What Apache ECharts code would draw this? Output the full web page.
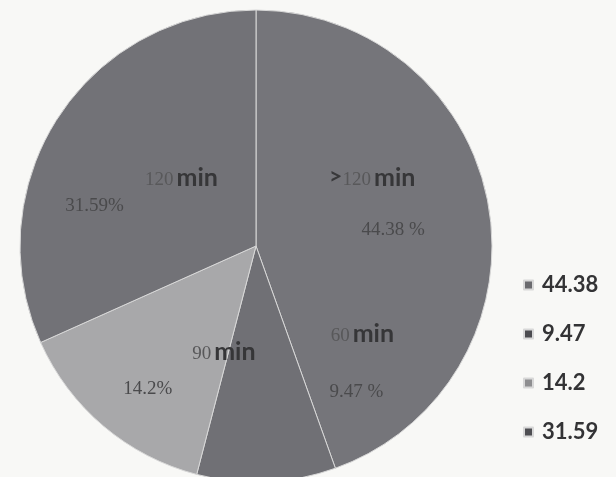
<!DOCTYPE html>
<html>
<head>
<meta charset="utf-8">
<script src="https://cdn.jsdelivr.net/npm/echarts@6/dist/echarts.min.js"></script>
<style>
  html, body { margin: 0; padding: 0; background: #f8f8f6; }
  #chart { width: 616px; height: 477px; }
</style>
</head>
<body>
<div id="chart"></div>
<script>
// Share of cases by duration (slices run clockwise from 12 o'clock)
const durations   = ['>120', '60', '90', '120'];
const shares      = [44.38, 9.47, 14.2, 31.59];
const shareTexts  = ['44.38 %', '9.47 %', '14.2%', '31.59%'];
const legendNames = ['44.38', '9.47', '14.2', '31.59'];

// Styling
const sliceColors  = ['#75757a', '#707075', '#a8a8aa', '#727277'];
const legendColors = ['#6a6a6e', '#4c4c50', '#8e8e90', '#4e4e52'];
// Nudges applied to the library's inside-label anchor for each slice
const durationNudge = [[-3, -48], [101, -33], [46, 13], [27, -3]];
const shareNudge    = [[18, 5], [95, 25], [-30, 51], [-60, 26]];

const pieCenter = [256, 246];
const pieRadius = 236;

const sliceData = shares.map((v, i) => ({
  name: legendNames[i],
  value: v,
  itemStyle: { color: sliceColors[i] }
}));

const chart = echarts.init(document.getElementById('chart'));
chart.setOption({
  backgroundColor: '#f8f8f6',
  animation: false,
  legend: {
    orient: 'vertical',
    left: 518,
    top: 269,
    itemWidth: 9,
    itemHeight: 9,
    itemGap: 27,
    icon: 'rect',
    data: legendNames.map((n, i) => ({ name: n, itemStyle: { color: legendColors[i] } })),
    textStyle: {
      fontFamily: 'Lato',
      fontWeight: 'bold',
      fontSize: 22,
      lineHeight: 22,
      color: '#333335',
      padding: [0, 0, 0, 4]
    }
  },
  series: [
    {
      type: 'pie',
      center: pieCenter,
      radius: pieRadius,
      startAngle: 90,
      clockwise: true,
      silent: true,
      itemStyle: { borderColor: '#d8d8d8', borderWidth: 1 },
      label: {
        show: true,
        position: 'inside',
        formatter: (p) => {
          const d = durations[p.dataIndex];
          if (d.charAt(0) === '>') return '{g|>}{n|' + d.slice(1) + '}{m|min}';
          return '{n|' + d + '}{m|min}';
        },
        rich: {
          g: { fontFamily: 'Lato', fontWeight: 'bold', fontSize: 23, color: '#38383a', lineHeight: 26, verticalAlign: 'bottom', padding: [0, 0, 2, 0] },
          n: { fontFamily: 'Liberation Serif', fontSize: 19, color: '#58585a', lineHeight: 26, verticalAlign: 'bottom', padding: [0, 0, 1, 0] },
          m: { fontFamily: 'Lato', fontWeight: 'bold', fontSize: 25, color: '#363638', lineHeight: 26, verticalAlign: 'bottom', padding: [0, 0, 0, 3] }
        }
      },
      labelLayout: (p) => ({ dx: durationNudge[p.dataIndex][0], dy: durationNudge[p.dataIndex][1] }),
      labelLine: { show: false },
      data: sliceData
    },
    {
      type: 'pie',
      center: pieCenter,
      radius: pieRadius,
      startAngle: 90,
      clockwise: true,
      silent: true,
      itemStyle: { color: 'rgba(0,0,0,0)', borderWidth: 0 },
      label: {
        show: true,
        position: 'inside',
        formatter: (p) => shareTexts[p.dataIndex],
        fontFamily: 'Liberation Serif',
        fontSize: 19,
        color: '#4a4a4c'
      },
      labelLayout: (p) => ({ dx: shareNudge[p.dataIndex][0], dy: shareNudge[p.dataIndex][1] }),
      labelLine: { show: false },
      data: shares.map((v, i) => ({ name: legendNames[i], value: v }))
    }
  ]
});
</script>
</body>
</html>
